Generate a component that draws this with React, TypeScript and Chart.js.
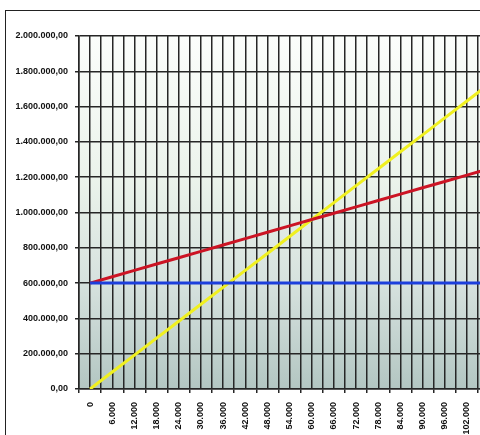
import { useEffect, useRef } from 'react';
import { Chart, registerables } from 'chart.js';

Chart.register(...registerables);

// Production volume (units) at each category of the break-even chart
const volumes = [
  0, 6000, 12000, 18000, 24000, 30000, 36000, 42000, 48000, 54000,
  60000, 66000, 72000, 78000, 84000, 90000, 96000, 102000, 108000,
];

const volumeLabels = [
  '0', '6.000', '12.000', '18.000', '24.000', '30.000', '36.000', '42.000', '48.000', '54.000',
  '60.000', '66.000', '72.000', '78.000', '84.000', '90.000', '96.000', '102.000', '108.000',
];

// Fixed costs stay flat
const fixedCosts = [
  600000, 600000, 600000, 600000, 600000, 600000, 600000, 600000, 600000, 600000,
  600000, 600000, 600000, 600000, 600000, 600000, 600000, 600000, 600000,
];

// Total costs: fixed plus variable
const totalCosts = [
  600000, 636000, 672000, 708000, 744000, 780000, 816000, 852000, 888000, 924000,
  960000, 996000, 1032000, 1068000, 1104000, 1140000, 1176000, 1212000, 1248000,
];

// Revenue
const revenues = [
  0, 96000, 192000, 288000, 384000, 480000, 576000, 672000, 768000, 864000,
  960000, 1056000, 1152000, 1248000, 1344000, 1440000, 1536000, 1632000, 1728000,
];

const amountLabels = [
  '0,00', '200.000,00', '400.000,00', '600.000,00', '800.000,00', '1.000.000,00',
  '1.200.000,00', '1.400.000,00', '1.600.000,00', '1.800.000,00', '2.000.000,00',
];

const AMOUNT_STEP = 200000;
const VOLUME_STEP = 6000;

const FONT = { family: '"Liberation Sans", Arial, sans-serif', size: 9, weight: 'bold' as const };
const GRID = '#262626';

const plotBackground = {
  id: 'plotBackground',
  beforeDraw(chart: Chart) {
    const { ctx, chartArea } = chart;
    if (!chartArea) return;
    const { left, top, right, bottom } = chartArea;
    const g = ctx.createLinearGradient(0, top, 0, bottom);
    g.addColorStop(0, '#fbfdfb');
    g.addColorStop(0.4, '#ebf3eb');
    g.addColorStop(0.7, '#d6e2de');
    g.addColorStop(1, '#b3c6c2');
    ctx.save();
    ctx.fillStyle = g;
    ctx.fillRect(left, top, right - left, bottom - top);
    ctx.restore();
  },
};

const toPoints = (values: number[]) => values.map((y, i) => ({ x: volumes[i], y }));

export default function App() {
  const canvasRef = useRef<HTMLCanvasElement | null>(null);

  useEffect(() => {
    const canvas = canvasRef.current;
    if (!canvas) return;
    const chart = new Chart(canvas, {
      type: 'line',
      data: {
        datasets: [
          {
            label: 'Fixed costs',
            data: toPoints(fixedCosts),
            borderColor: '#1c3fdc',
            borderWidth: 3,
            pointRadius: 0,
            tension: 0,
          },
          {
            label: 'Total costs',
            data: toPoints(totalCosts),
            borderColor: '#cc1424',
            borderWidth: 3,
            pointRadius: 0,
            tension: 0,
          },
          {
            label: 'Revenue',
            data: toPoints(revenues),
            borderColor: '#f0f020',
            borderWidth: 3,
            pointRadius: 0,
            tension: 0,
          },
        ],
      },
      options: {
        animation: false,
        responsive: false,
        devicePixelRatio: 1,
        layout: { padding: { top: 36, left: 0, right: 10, bottom: 0 } },
        plugins: { legend: { display: false }, tooltip: { enabled: false } },
        scales: {
          x: {
            type: 'linear',
            min: -3000,
            max: 111000,
            afterFit: (s: any) => {
              s.height = 81;
            },
            border: { display: true, color: GRID, width: 1.5 },
            grid: {
              color: GRID,
              lineWidth: 1.5,
              tickLength: 4,
              tickWidth: 1.5,
              tickColor: (c: any) =>
                c.tick && Math.abs(c.tick.value % VOLUME_STEP) === 0 ? 'rgba(0,0,0,0)' : GRID,
            },
            ticks: {
              stepSize: 3000,
              autoSkip: false,
              minRotation: 90,
              maxRotation: 90,
              padding: 9,
              color: '#111',
              font: FONT,
              callback: (v: any) => {
                const n = Number(v);
                if (n < 0 || n % VOLUME_STEP !== 0) return '';
                return volumeLabels[n / VOLUME_STEP] ?? '';
              },
            },
          },
          y: {
            min: 0,
            max: 2000000,
            afterFit: (s: any) => {
              s.width = 79;
            },
            border: { display: true, color: GRID, width: 1.5 },
            grid: { color: GRID, lineWidth: 1.5, tickLength: 4, tickWidth: 1.5 },
            ticks: {
              stepSize: AMOUNT_STEP,
              padding: 7,
              color: '#111',
              font: FONT,
              callback: (v: any) => amountLabels[Math.round(Number(v) / AMOUNT_STEP)] ?? '',
            },
          },
        },
      },
      plugins: [plotBackground],
    });
    return () => chart.destroy();
  }, []);

  return (
    <div
      style={{
        position: 'fixed',
        left: 0,
        top: 0,
        width: 480,
        height: 435,
        overflow: 'hidden',
        background: '#fff',
      }}
    >
      <div
        style={{
          position: 'absolute',
          left: 5,
          top: 10,
          width: 600,
          height: 600,
          borderLeft: '1.5px solid #222',
          borderTop: '1.5px solid #222',
        }}
      />
      <canvas
        ref={canvasRef}
        width={520}
        height={470}
        style={{ position: 'absolute', left: 0, top: 0, width: 520, height: 470 }}
      />
    </div>
  );
}
